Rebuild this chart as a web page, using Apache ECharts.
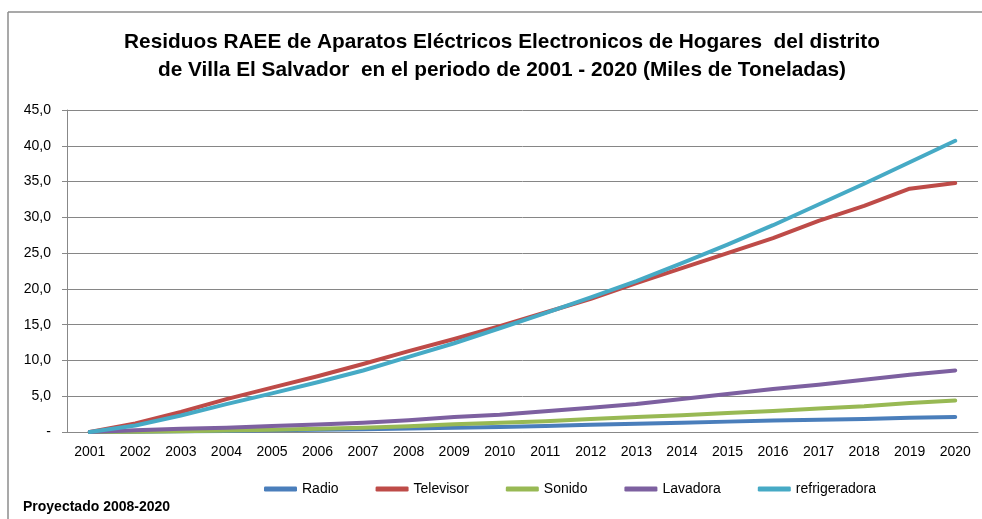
<!DOCTYPE html>
<html>
<head>
<meta charset="utf-8">
<script src="https://cdn.jsdelivr.net/npm/echarts@6/dist/echarts.min.js"></script>
<style>html,body{margin:0;padding:0;background:#fff;overflow:hidden}#c{width:982px;height:519px}</style>
</head>
<body>
<div id="c"></div>
<script>
var years = ['2001','2002','2003','2004','2005','2006','2007','2008','2009','2010','2011','2012','2013','2014','2015','2016','2017','2018','2019','2020'];
var radio = [0, 0.05, 0.1, 0.15, 0.25, 0.3, 0.4, 0.5, 0.6, 0.7, 0.85, 1.0, 1.15, 1.3, 1.45, 1.6, 1.7, 1.8, 2.0, 2.1];
var televisor = [0, 1.2, 2.8, 4.6, 6.2, 7.8, 9.5, 11.3, 13.0, 14.8, 16.7, 18.6, 20.8, 22.9, 25.0, 27.1, 29.5, 31.6, 34.0, 34.8];
var sonido = [0, 0.05, 0.1, 0.2, 0.3, 0.45, 0.6, 0.8, 1.1, 1.3, 1.5, 1.8, 2.1, 2.35, 2.65, 2.95, 3.3, 3.6, 4.05, 4.4];
var lavadora = [0, 0.25, 0.45, 0.6, 0.85, 1.05, 1.3, 1.65, 2.1, 2.4, 2.9, 3.4, 3.9, 4.6, 5.3, 6.0, 6.6, 7.3, 8.0, 8.6];
var refrigeradora = [0, 0.9, 2.3, 3.9, 5.4, 6.95, 8.6, 10.5, 12.4, 14.5, 16.6, 18.8, 21.1, 23.6, 26.2, 28.9, 31.8, 34.7, 37.7, 40.7];
var seriesNames = ['Radio','Televisor','Sonido','Lavadora','refrigeradora'];
var seriesData = [radio, televisor, sonido, lavadora, refrigeradora];
var colors = ['#4a7ebb','#be4b48','#98b954','#7d60a0','#46aac5'];
var titleLines = ['Residuos RAEE de Aparatos Eléctricos Electronicos de Hogares  del distrito','de Villa El Salvador  en el periodo de 2001 - 2020 (Miles de Toneladas)'];
var note = 'Proyectado 2008-2020';

var chart = echarts.init(document.getElementById('c'), null, {renderer:'canvas'});
var FONT = '"Liberation Sans",Arial,sans-serif';
chart.setOption({
  animation: false,
  color: colors,
  graphic: [
    {type:'line', shape:{x1:8, y1:12, x2:982, y2:12}, style:{stroke:'#8c8c8c', lineWidth:1.5}, silent:true},
    {type:'line', shape:{x1:8, y1:12, x2:8, y2:519}, style:{stroke:'#8c8c8c', lineWidth:1.5}, silent:true},
    {type:'text', x:502, y:42, style:{text:titleLines[0], fill:'#000', font:'bold 20.8px '+FONT, textAlign:'center', textVerticalAlign:'middle'}},
    {type:'text', x:502, y:70, style:{text:titleLines[1], fill:'#000', font:'bold 20.8px '+FONT, textAlign:'center', textVerticalAlign:'middle'}},
    {type:'text', x:23, y:507, style:{text:note, fill:'#000', font:'bold 14px '+FONT, textAlign:'left', textVerticalAlign:'middle'}}
  ],
  grid: {left:67, right:4, top:110, bottom:87},
  legend: {
    data: seriesNames,
    left: 259, top: 477,
    icon: 'roundRect', itemWidth: 33, itemHeight: 5, itemGap: 37,
    textStyle: {fontSize:14, color:'#000', fontFamily:FONT}
  },
  xAxis: {
    type:'category', data: years, boundaryGap: true,
    axisLine:{lineStyle:{color:'#888', width:1}},
    axisTick:{show:false},
    axisLabel:{color:'#000', fontSize:14, fontFamily:FONT, margin:13}
  },
  yAxis: {
    type:'value', min:0, max:45, interval:5,
    axisLine:{show:true, lineStyle:{color:'#888', width:1}},
    axisTick:{show:true, length:5, lineStyle:{color:'#888'}},
    splitLine:{lineStyle:{color:'#868686', width:1}},
    axisLabel:{color:'#000', fontSize:14, fontFamily:FONT, margin:16,
      formatter:function(v){ return v===0 ? '-' : v.toFixed(1).replace('.', ','); }}
  },
  series: seriesNames.map(function(n,i){
    return {name:n, type:'line', data:seriesData[i], symbol:'none', smooth:false,
      lineStyle:{width:4, color:colors[i], cap:'round', join:'round'}};
  })
});
</script>
</body>
</html>
